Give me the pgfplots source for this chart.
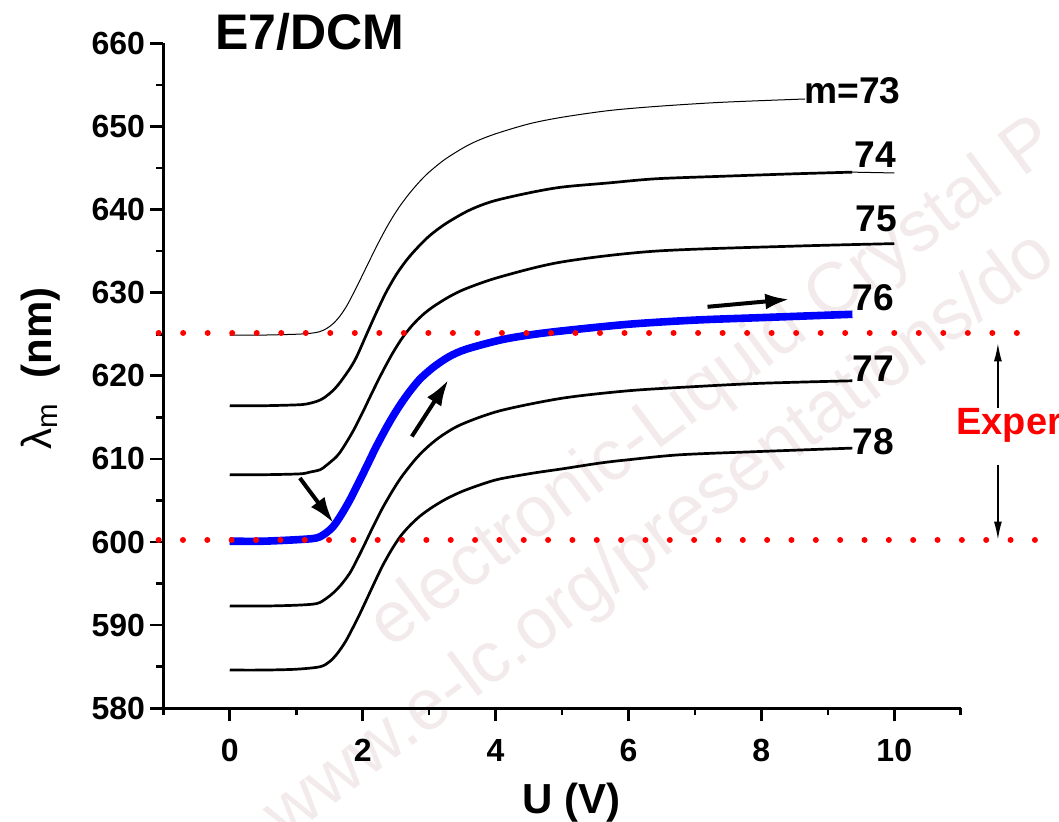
\documentclass[border=0pt]{standalone}
\usepackage{pgfplots}
\pgfplotsset{compat=1.18}
\usepackage{fontspec}
\setmainfont{Liberation Sans}
\usetikzlibrary{arrows.meta}
\definecolor{wm}{RGB}{243,235,235}
\definecolor{myblue}{RGB}{0,0,255}
\begin{document}
\begin{tikzpicture}
\useasboundingbox (-81.65pt,-56.85pt) rectangle (447.85pt,354.15pt);
\clip (-81.65pt,-56.85pt) rectangle (447.85pt,354.15pt);
\node[text=wm, rotate=36.7, anchor=base west, font=\fontsize{36}{42}\selectfont, inner sep=0pt] at (113.35pt,29.15pt) {electronic-Liquid Crystal P};
\node[text=wm, rotate=36.7, anchor=base west, font=\fontsize{36}{42}\selectfont, inner sep=0pt] at (60.85pt,-66.15pt) {www.e-lc.org/presentations/do};
\begin{axis}[
  at={(0pt,0pt)}, anchor=south west,
  scale only axis, width=398.7pt, height=332.5pt,
  xmin=-1, xmax=11, ymin=580, ymax=660,
  axis lines*=left,
  axis line style={line width=1.3pt, black},
  xtick={0,2,...,10}, minor xtick={-1,1,...,11},
  ytick={580,590,...,660}, minor ytick={585,595,...,655},
  tick align=outside, major tick length=6.5pt, minor tick length=3.5pt,
  every major tick/.append style={line width=1.3pt, black},
  every minor tick/.append style={line width=1.3pt, black},
  ticklabel style={font=\fontsize{16}{19}\selectfont\bfseries},
  xticklabel style={anchor=north, inner sep=0pt, yshift=-8.8pt},
  yticklabel style={anchor=east, inner sep=0pt, xshift=-2.5pt},
  /pgf/number format/assume math mode=true,
  clip=false,
]
% m = 73 (thin)
\addplot[black, line width=0.5pt, smooth, tension=0.5] coordinates {
(0,624.9) (0.5,624.9) (1.0,625.0) (1.2,625.1) (1.35,625.3) (1.46,625.7) (1.56,626.3) (1.66,627.2) (1.76,628.4) (1.86,629.9) (1.96,631.5) (2.1,633.8) (2.25,636.2) (2.4,638.4) (2.55,640.3) (2.7,641.9) (2.85,643.3) (3.0,644.5) (3.25,646.1) (3.6,647.8) (3.96,649.0) (4.5,650.3) (5.0,651.1) (5.7,651.9) (6.41,652.4) (7.4,652.9) (8.66,653.3)};
% m = 74
\addplot[black, line width=1.35pt, smooth, tension=0.5] coordinates {
(0,616.4) (0.5,616.4) (1.0,616.5) (1.15,616.6) (1.3,616.9) (1.41,617.3) (1.55,618.2) (1.66,619.2) (1.81,620.9) (1.91,622.3) (2.06,625.0) (2.2,627.5) (2.35,630.0) (2.5,632.1) (2.65,633.8) (2.8,635.2) (3.0,636.8) (3.25,638.3) (3.6,639.9) (3.96,641.0) (4.5,642.0) (5.0,642.7) (5.7,643.2) (6.41,643.7) (7.4,644.0) (8.5,644.3) (9.37,644.5)};
\addplot[black, line width=0.5pt] coordinates {(9.37,644.5) (10.0,644.4)};
% m = 75
\addplot[black, line width=1.35pt, smooth, tension=0.5] coordinates {
(0,608.1) (0.5,608.1) (1.05,608.2) (1.2,608.4) (1.36,608.7) (1.45,609.2) (1.61,610.3) (1.71,611.4) (1.86,613.4) (2.0,615.6) (2.15,618.1) (2.3,620.5) (2.45,622.7) (2.6,624.6) (2.75,626.1) (2.9,627.3) (3.06,628.3) (3.3,629.5) (3.56,630.5) (4.07,631.9) (5.0,633.7) (6.41,635.0) (8.5,635.6) (10.0,635.9)};
% m = 76 (blue)
\addplot[myblue, line width=3.8pt, smooth, tension=0.5] coordinates {
(0,600.1) (0.5,600.1) (1.05,600.3) (1.31,600.5) (1.45,601.1) (1.56,601.9) (1.68,603.3) (1.81,605.1) (1.93,607.0) (2.06,609.1) (2.2,611.4) (2.36,613.8) (2.5,615.7) (2.66,617.6) (2.85,619.5) (3.06,621.0) (3.3,622.3) (3.56,623.2) (4.07,624.3) (4.5,624.9) (5.0,625.4) (6.0,626.2) (7.0,626.7) (8.0,627.0) (9.37,627.4)};
% m = 77
\addplot[black, line width=1.35pt, smooth, tension=0.5] coordinates {
(0,592.3) (0.5,592.3) (1.0,592.4) (1.31,592.6) (1.45,593.2) (1.56,593.9) (1.68,594.9) (1.81,596.3) (1.91,597.8) (2.01,599.4) (2.16,601.9) (2.3,604.1) (2.46,606.3) (2.6,608.0) (2.81,610.1) (3.0,611.6) (3.21,612.9) (3.5,614.2) (4.07,615.8) (5.0,617.3) (6.0,618.2) (7.0,618.7) (8.0,619.1) (9.37,619.4)};
% m = 78
\addplot[black, line width=1.35pt, smooth, tension=0.5] coordinates {
(0,584.6) (0.5,584.6) (1.0,584.7) (1.36,585.0) (1.5,585.6) (1.61,586.5) (1.74,588.0) (1.86,589.8) (1.96,591.4) (2.06,593.1) (2.2,595.5) (2.31,597.3) (2.43,599.0) (2.56,600.6) (2.7,601.9) (2.86,603.1) (3.05,604.2) (3.26,605.2) (3.5,606.1) (3.81,607.0) (4.07,607.6) (4.57,608.3) (5.0,608.8) (5.57,609.5) (6.0,609.9) (6.78,610.5) (8.0,610.9) (9.37,611.3)};
% experimental limits (red dotted)
\addplot[red, line width=3pt, line cap=round, dash pattern=on 0pt off 12.26pt] coordinates {(-1.07,625.15) (11.875,625.15)};
\addplot[red, line width=3pt, line cap=round, dash pattern=on 0pt off 12.17pt] coordinates {(-1.07,600.25) (12.145,600.25)};
% arrows
\draw[-{Latex[length=12pt,width=8pt]}, line width=2pt] (axis cs:7.19,628.3) -- (axis cs:8.42,629.2);
\draw[-{Latex[length=13pt,width=8.5pt]}, line width=2pt] (axis cs:2.74,612.7) -- (axis cs:3.29,619.5);
\draw[-{Latex[length=13pt,width=8.5pt]}, line width=2pt] (axis cs:1.055,607.7) -- (axis cs:1.56,602.3);
\draw[-{Latex[length=9pt,width=4pt]}, line width=0.7pt] (axis cs:11.56,616.1) -- (axis cs:11.56,623.9);
\draw[-{Latex[length=9pt,width=4pt]}, line width=0.7pt] (axis cs:11.56,609.3) -- (axis cs:11.56,600.3);
% texts
\node[anchor=base west, inner sep=0pt, font=\fontsize{25}{30}\selectfont\bfseries] at (axis cs:-0.22,659.2) {E7/DCM};
\node[anchor=base east, inner sep=0pt, font=\fontsize{18.6}{22}\selectfont\bfseries] at (axis cs:10.10,652.8) {m=73};
\node[anchor=base east, inner sep=0pt, font=\fontsize{18.6}{22}\selectfont\bfseries] at (axis cs:10.03,645.1) {74};
\node[anchor=base east, inner sep=0pt, font=\fontsize{18.6}{22}\selectfont\bfseries] at (axis cs:10.05,637.3) {75};
\node[anchor=base east, inner sep=0pt, font=\fontsize{18.6}{22}\selectfont\bfseries] at (axis cs:10.0,627.8) {76};
\node[anchor=base east, inner sep=0pt, font=\fontsize{18.6}{22}\selectfont\bfseries] at (axis cs:10.0,619.3) {77};
\node[anchor=base east, inner sep=0pt, font=\fontsize{18.6}{22}\selectfont\bfseries] at (axis cs:10.0,610.5) {78};
\node[anchor=base west, inner sep=0pt, text=red, font=\fontsize{19}{22}\selectfont\bfseries] at (axis cs:10.93,612.9) {Exper};
\node[anchor=base, inner sep=0pt, font=\fontsize{21}{24}\selectfont\bfseries] at (axis description cs:0.5118,-0.1584) {U (V)};
\node[anchor=base, rotate=90, inner sep=0pt, font=\fontsize{21}{24}\selectfont] at (axis description cs:-0.1405,0.511) {λ\textsubscript{m}\hspace{0.6em}\textbf{(nm)}};
\end{axis}
\end{tikzpicture}
\end{document}
